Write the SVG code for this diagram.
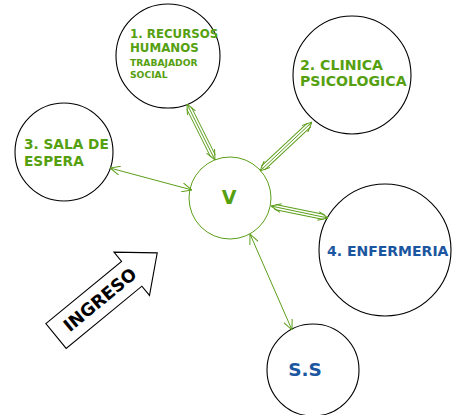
<svg xmlns="http://www.w3.org/2000/svg" width="453" height="415" viewBox="0 0 453 415">
<defs>
<style>
.node{fill:#fff;stroke:#000;stroke-width:1.1}
.v{fill:#fff;stroke:#5c9e1a;stroke-width:1}
.t{font-family:"DejaVu Sans",Verdana,sans-serif;font-weight:bold}
.g{fill:#55a00f}
.b{fill:#1b56a0}
.ln{fill:none;stroke:#5c9e1a;stroke-width:1}
.o1{fill:none;stroke:#5c9e1a;stroke-width:6}
.o2{fill:none;stroke:#fff;stroke-width:4}
</style>
<marker id="ah" viewBox="0 0 10 10" refX="10" refY="5" markerWidth="10" markerHeight="10" markerUnits="userSpaceOnUse" orient="auto-start-reverse">
<path d="M0,0.5 L10,5 L0,9.5" fill="none" stroke="#5c9e1a" stroke-width="1"/>
</marker>
</defs>
<rect width="453" height="415" fill="#fff"/>
<g id="n1"><circle class="node" cx="168" cy="56" r="52"/>
<text class="t g" x="130" y="38" font-size="11.8">1. RECURSOS</text>
<text class="t g" x="130" y="52" font-size="11.8">HUMANOS</text>
<text class="t g" x="130" y="66" font-size="9.2">TRABAJADOR</text>
<text class="t g" x="130" y="78" font-size="9.2">SOCIAL</text></g>
<g id="n2"><circle class="node" cx="352" cy="75" r="59"/>
<text class="t g" x="300" y="70" font-size="14.1">2. CLINICA</text>
<text class="t g" x="300" y="86" font-size="14.1">PSICOLOGICA</text></g>
<g id="n3"><circle class="node" cx="64" cy="152" r="49"/>
<text class="t g" x="24" y="149" font-size="13.7">3. SALA DE</text>
<text class="t g" x="24" y="166" font-size="13.7">ESPERA</text></g>
<g id="nv"><circle class="v" cx="230" cy="198" r="41"/>
<text class="t g" x="229" y="204" font-size="19" text-anchor="middle">V</text></g>
<g id="n4"><circle class="node" cx="385" cy="250" r="66"/>
<text class="t b" x="327" y="256" font-size="14">4. ENFERMERIA</text></g>
<g id="n5"><circle class="node" cx="313" cy="370" r="46"/>
<text class="t b" x="305" y="376" font-size="18.5" text-anchor="middle">S.S</text></g>
<g id="ingreso" transform="translate(56,336) rotate(-39.4)">
<polygon points="0,-16 98,-16 98,-28 131,0 98,28 98,16 0,16" fill="#fff" stroke="#000" stroke-width="1.1"/>
<text class="t" x="57" y="6" font-size="17.5" text-anchor="middle" fill="#000">INGRESO</text></g>
<g id="connectors">
<path class="o1" d="M189,108 L213,156"/><path class="o2" d="M189,108 L213,156"/>
<path class="ln" d="M187,104 L215,160" marker-start="url(#ah)" marker-end="url(#ah)"/>
<path class="o1" d="M309,125 L263,168"/><path class="o2" d="M309,125 L263,168"/>
<path class="ln" d="M312,122 L260,171" marker-start="url(#ah)" marker-end="url(#ah)"/>
<path class="o1" d="M275,207 L324,217"/><path class="o2" d="M275,207 L324,217"/>
<path class="ln" d="M271,206 L328,218" marker-start="url(#ah)" marker-end="url(#ah)"/>
<path class="ln" d="M110,168 L192,190" marker-start="url(#ah)" marker-end="url(#ah)"/>
<path class="ln" d="M250,234 L292,330" marker-start="url(#ah)" marker-end="url(#ah)"/>
</g>
</svg>
